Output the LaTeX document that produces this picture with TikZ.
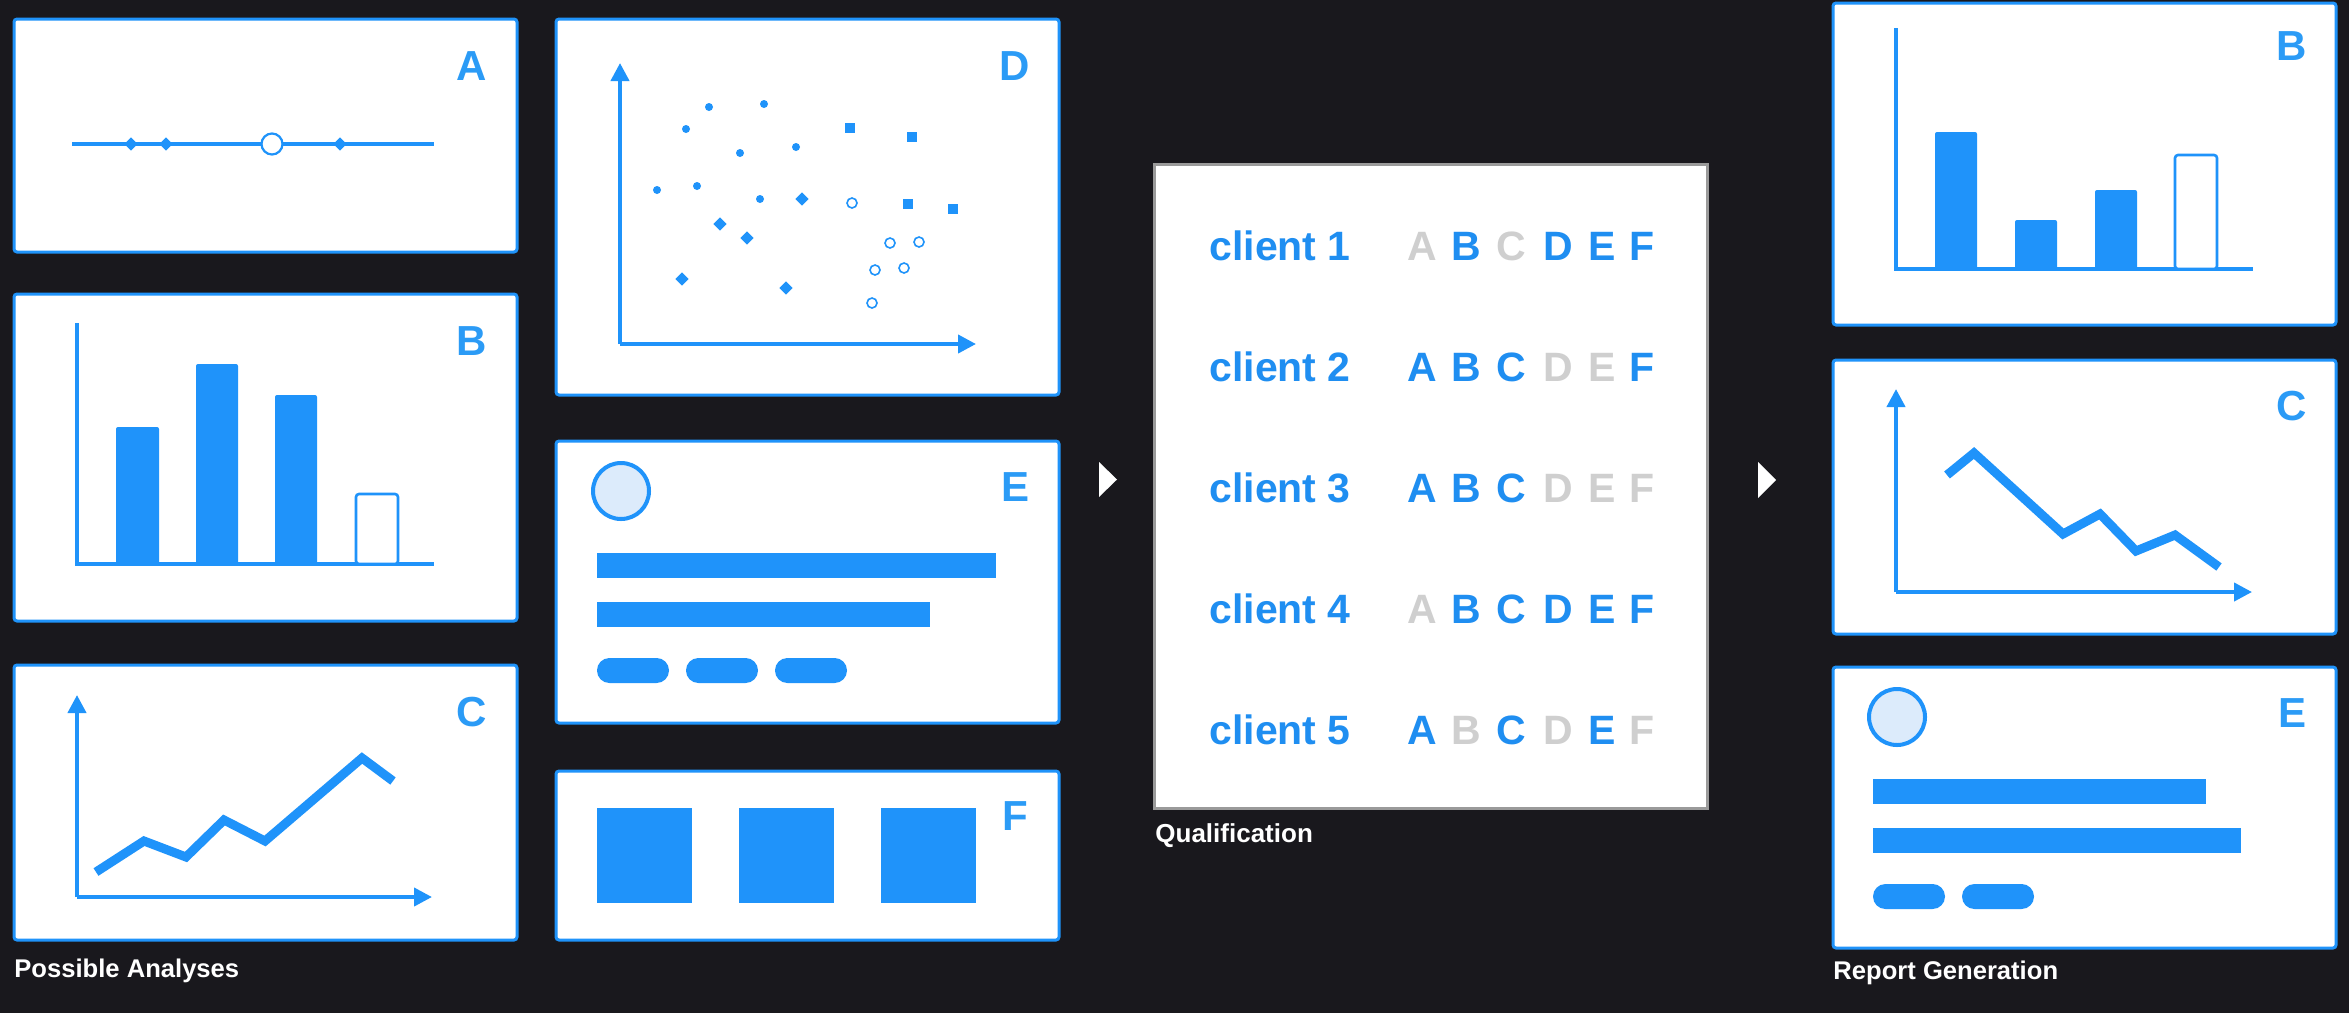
\documentclass[tikz,border=0pt]{standalone}
\usepackage{fontspec}
\setmainfont{Liberation Sans}
\usetikzlibrary{arrows.meta,shapes.geometric,fit}
\definecolor{bgc}{HTML}{19181D}
\definecolor{bl}{HTML}{1F93FA}
\definecolor{lbl}{HTML}{2B9BF6}
\definecolor{lightbl}{HTML}{DCEBFB}
\definecolor{qb}{HTML}{1F8EF1}
\definecolor{qg}{HTML}{CFCFCF}
\definecolor{qborder}{HTML}{9A9A9A}
\begin{document}
\begin{tikzpicture}[x=0.5pt,y=-0.5pt,
  panel/.style={draw=bl, line width=1.5pt, fill=white, rounded corners=1.5pt, inner sep=0pt},
  qpanel/.style={draw=qborder, line width=1.5pt, fill=white, inner sep=0pt},
  tag/.style={anchor=base, inner sep=0pt, text=lbl, font=\bfseries\fontsize{21}{25}\selectfont},
  caption/.style={anchor=base west, inner sep=0pt, text=white, font=\bfseries\fontsize{12.8}{15}\selectfont},
  axis/.style={draw=bl, line width=2pt, -{Triangle[length=9pt,width=9pt]}},
  baxis/.style={draw=bl, line width=1.6pt},
  trend/.style={draw=bl, line width=4.5pt, miter limit=10},
  bar/.style={fill=bl, rounded corners=1pt},
  obar/.style={draw=bl, fill=white, line width=1.3pt, rounded corners=1.5pt},
  dmd/.style={diamond, fill=bl, inner sep=0pt, minimum size=6.8pt},
  sqr/.style={rectangle, fill=bl, inner sep=0pt, minimum size=4.6pt},
  odot/.style={circle, draw=bl, fill=white, line width=0.8pt, inner sep=0pt, minimum size=5pt},
  fdot/.style={circle, fill=bl, inner sep=0pt, minimum size=4pt},
  avatar/.style={circle, draw=bl, fill=lightbl, line width=2pt, inner sep=0pt, minimum size=28pt},
  qtext/.style={anchor=base west, inner sep=0pt, text=qb, font=\bfseries\fontsize{20.5}{25}\selectfont},
  qlet/.style={anchor=base, inner sep=0pt, font=\bfseries\fontsize{20.5}{25}\selectfont},
  playtri/.style={fill=white}
]
\fill[bgc] (0,0) rectangle (2349,1013);
\useasboundingbox (0,0) rectangle (2349,1013);

% ---------- panels ----------
\node[panel, fit={(14,19) (517,252)}] (pA) {};
\node[panel, fit={(14,294) (517,621)}] (pB) {};
\node[panel, fit={(14,665) (517,940)}] (pC) {};
\node[panel, fit={(556,19) (1059,395)}] (pD) {};
\node[panel, fit={(556,441) (1059,723)}] (pE) {};
\node[panel, fit={(556,771) (1059,940)}] (pF) {};
\node[qpanel, fit={(1154,164) (1707,808)}] (pQ) {};
\node[panel, fit={(1833,3) (2336,325)}] (pB2) {};
\node[panel, fit={(1833,360) (2336,634)}] (pC2) {};
\node[panel, fit={(1833,667) (2336,948)}] (pE2) {};

% ---------- tags ----------
\node[tag] (tA) at (472,80) {A};
\node[tag] (tB) at (472,355) {B};
\node[tag] (tC) at (472,726) {C};
\node[tag] (tD) at (1015,80) {D};
\node[tag] (tE) at (1015,501) {E};
\node[tag] (tF) at (1015,830) {F};
\node[tag] (tB2) at (2292,60) {B};
\node[tag] (tC2) at (2292,420) {C};
\node[tag] (tE2) at (2292,727) {E};

% ---------- A: number line ----------
\coordinate (aL) at (72,144);
\coordinate (aR) at (434,144);
\draw[bl, line width=1.7pt] (aL) -- (aR);
\node[dmd] (a1) at (131,144) {};
\node[dmd] (a2) at (166,144) {};
\node[dmd] (a3) at (340,144) {};
\node[circle, draw=bl, fill=white, line width=1.1pt, inner sep=0pt, minimum size=10.5pt] (a4) at (272,144) {};

% ---------- B: bar chart ----------
\coordinate (bO) at (77,564);
\draw[baxis] (77,323) -- (bO) -- (434,564);
\fill[bar] (116,565) rectangle (159,427);
\fill[bar] (196,565) rectangle (238,364);
\fill[bar] (275,565) rectangle (317,395);
\draw[obar] (356,564) rectangle (398,494);

% ---------- C: line chart ----------
\coordinate (cO) at (77,897);
\draw[axis] (cO) -- (77,695);
\draw[axis] (cO) -- (432,897);
\draw[trend] (96,872) -- (144,841) -- (186,857) -- (224,820) -- (265,841) -- (362,758) -- (393,781);

% ---------- D: scatter ----------
\coordinate (dO) at (620,344);
\draw[axis] (dO) -- (620,63);
\draw[axis] (dO) -- (976,344);
\foreach \x/\y [count=\i] in {709/107,764/104,686/129,740/153,796/147,657/190,697/186,760/199}
  \node[fdot] (df\i) at (\x,\y) {};
\foreach \x/\y [count=\i] in {850/128,912/137,908/204,953/209}
  \node[sqr] (ds\i) at (\x,\y) {};
\foreach \x/\y [count=\i] in {802/199,720/224,747/238,682/279,786/288}
  \node[dmd] (dd\i) at (\x,\y) {};
\foreach \x/\y [count=\i] in {852/203,890/243,919/242,875/270,904/268,872/303}
  \node[odot] (do\i) at (\x,\y) {};

% ---------- E: profile card ----------
\node[avatar] (eAv) at (621,491) {};
\fill[bl] (597,553) rectangle (996,578);
\fill[bl] (597,602) rectangle (930,627);
\fill[bl, rounded corners=6.2pt] (597,658) rectangle (669,683);
\fill[bl, rounded corners=6.2pt] (686,658) rectangle (758,683);
\fill[bl, rounded corners=6.2pt] (775,658) rectangle (847,683);

% ---------- F: squares ----------
\fill[bl] (597,808) rectangle (692,903);
\fill[bl] (739,808) rectangle (834,903);
\fill[bl] (881,808) rectangle (976,903);

% ---------- arrows ----------
\fill[playtri] (1099,462) -- (1117,479.5) -- (1099,497) -- cycle;
\fill[playtri] (1758,462) -- (1776,480) -- (1758,498) -- cycle;

% ---------- Qualification ----------
\foreach \r/\y/\sa/\sb/\sc/\sd/\se/\sf in {
  1/260/qg/qb/qg/qb/qb/qb,
  2/381/qb/qb/qb/qg/qg/qb,
  3/502/qb/qb/qb/qg/qg/qg,
  4/623/qg/qb/qb/qb/qb/qb,
  5/744/qb/qg/qb/qg/qb/qg}{
  \node[qtext] (q\r) at (1209,\y) {client \r};
  \node[qlet, text=\sa] (q\r-A) at (1422,\y) {A};
  \node[qlet, text=\sb] (q\r-B) at (1466,\y) {B};
  \node[qlet, text=\sc] (q\r-C) at (1511,\y) {C};
  \node[qlet, text=\sd] (q\r-D) at (1558,\y) {D};
  \node[qlet, text=\se] (q\r-E) at (1602,\y) {E};
  \node[qlet, text=\sf] (q\r-F) at (1642,\y) {F};
}

% ---------- B2: bar chart ----------
\coordinate (b2O) at (1896,269);
\draw[baxis] (1896,28) -- (b2O) -- (2253,269);
\fill[bar] (1935,270) rectangle (1977,132);
\fill[bar] (2015,270) rectangle (2057,220);
\fill[bar] (2095,270) rectangle (2137,190);
\draw[obar] (2175,269) rectangle (2217,155);

% ---------- C2: line chart ----------
\coordinate (c2O) at (1896,592);
\draw[axis] (c2O) -- (1896,389);
\draw[axis] (c2O) -- (2252,592);
\draw[trend] (1947,475) -- (1974,453) -- (2063,534) -- (2100,514) -- (2136,551) -- (2175,535) -- (2219,567);

% ---------- E2: profile card ----------
\node[avatar] (e2Av) at (1897,717) {};
\fill[bl] (1873,779) rectangle (2206,804);
\fill[bl] (1873,828) rectangle (2241,853);
\fill[bl, rounded corners=6.2pt] (1873,884) rectangle (1945,909);
\fill[bl, rounded corners=6.2pt] (1962,884) rectangle (2034,909);

% ---------- captions ----------
\node[caption] (capPA) at (14,977) {Possible Analyses};
\node[caption, font=\bfseries\fontsize{13}{16}\selectfont] (capQ) at (1155,842) {Qualification};
\node[caption] (capRG) at (1833,979) {Report Generation};
\end{tikzpicture}
\end{document}
